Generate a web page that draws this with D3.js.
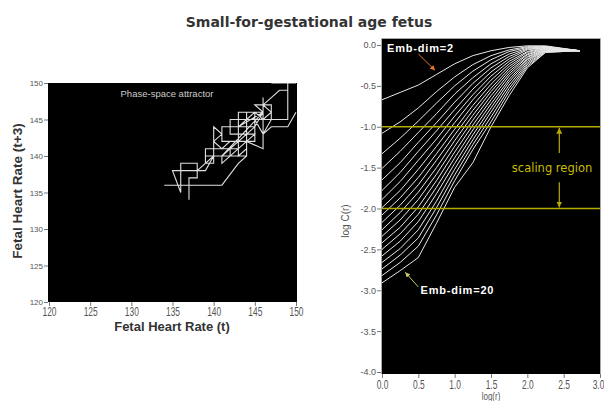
<!DOCTYPE html>
<html>
<head>
<meta charset="utf-8">
<script src="https://cdn.jsdelivr.net/npm/d3@7"></script>
<style>
  body { margin: 0; background: #fff; }
  svg { display: block; }
</style>
</head>
<body>
<script>
// ---- data ----
const fhrTicks = [120, 125, 130, 135, 140, 145, 150];
// phase-space trajectory: FHR(t) vs FHR(t+3), integer bpm
const attractorX = [146,146,144,144,143,141,137,134,138,137,137,137,138,138,136,136,135,139,140,144,
  142,142,139,139,140,140,141,140,141,142,145,145,143,143,144,144,146,146,146,145,
  147,147,145,146,145,142,142,145,143,141,141,139,139,138,140,
  140,143,143,141,141,144,144,142,142,145,145,141,146,
  143,144,145,146,147,146,147,148,149,149,150,147,149,149,149,147,146,147,149,150];
const attractorY = [143,141,142,140,139,136,136,136,136,136,134,137,137,139,139,135,138,138,140,140,
  140,141,141,139,139,144,143,142,141,142,142,146,146,140,141,146,146,148,143,145,
  145,147,147,146,144,144,143,143,141,139,140,140,139,138,140,
  141,141,142,142,144,144,143,143,145,145,144,140,146,
  144,145,146,145,146,147,148,149,149,150,150,150,150,147,145,145,143,144,144,146];

const logRTicks = [0, 0.5, 1.0, 1.5, 2.0, 2.5, 3.0];
const logCTicks = [0, -0.5, -1.0, -1.5, -2.0, -2.5, -3.0, -3.5, -4.0];
const logR = [0, 0.25, 0.5, 0.75, 1.0, 1.25, 1.5, 1.75, 2.0, 2.25, 2.72];
const embDims = [2,3,4,5,6,7,8,9,10,11,12,13,14,15,16,17,18,19,20];
const logC = [
  [-0.67,-0.58,-0.49,-0.36,-0.23,-0.13,-0.07,-0.03,-0.01,-0.01,-0.07],
  [-1.08,-0.94,-0.77,-0.57,-0.39,-0.24,-0.13,-0.06,-0.02,-0.02,-0.07],
  [-1.33,-1.14,-0.93,-0.71,-0.50,-0.32,-0.18,-0.08,-0.03,-0.02,-0.07],
  [-1.51,-1.30,-1.07,-0.84,-0.60,-0.40,-0.23,-0.11,-0.04,-0.02,-0.07],
  [-1.65,-1.44,-1.19,-0.95,-0.70,-0.47,-0.28,-0.14,-0.05,-0.03,-0.07],
  [-1.78,-1.56,-1.30,-1.05,-0.79,-0.54,-0.33,-0.17,-0.06,-0.03,-0.07],
  [-1.89,-1.67,-1.41,-1.15,-0.87,-0.61,-0.38,-0.20,-0.08,-0.03,-0.07],
  [-1.99,-1.78,-1.52,-1.24,-0.95,-0.67,-0.43,-0.23,-0.09,-0.04,-0.07],
  [-2.08,-1.87,-1.62,-1.33,-1.03,-0.74,-0.48,-0.26,-0.11,-0.04,-0.07],
  [-2.17,-1.96,-1.71,-1.41,-1.10,-0.80,-0.53,-0.29,-0.12,-0.05,-0.07],
  [-2.26,-2.05,-1.80,-1.50,-1.17,-0.86,-0.57,-0.32,-0.14,-0.05,-0.07],
  [-2.34,-2.14,-1.89,-1.58,-1.24,-0.92,-0.62,-0.35,-0.15,-0.06,-0.07],
  [-2.42,-2.23,-1.98,-1.66,-1.31,-0.98,-0.67,-0.38,-0.17,-0.06,-0.07],
  [-2.50,-2.31,-2.07,-1.74,-1.38,-1.04,-0.72,-0.42,-0.18,-0.07,-0.07],
  [-2.58,-2.40,-2.16,-1.82,-1.45,-1.10,-0.77,-0.45,-0.20,-0.07,-0.07],
  [-2.66,-2.49,-2.26,-1.91,-1.52,-1.16,-0.82,-0.49,-0.22,-0.08,-0.07],
  [-2.74,-2.57,-2.36,-1.99,-1.59,-1.22,-0.88,-0.53,-0.24,-0.08,-0.07],
  [-2.82,-2.66,-2.46,-2.08,-1.66,-1.28,-0.94,-0.57,-0.26,-0.09,-0.07],
  [-2.91,-2.76,-2.60,-2.18,-1.74,-1.44,-1.00,-0.62,-0.28,-0.09,-0.07]
];
const scalingBounds = [-1.0, -2.0];

const W = 604, H = 401;
const svg = d3.select("body").append("svg").attr("width", W).attr("height", H);

// title
svg.append("text").attr("x", 309).attr("y", 27).attr("text-anchor", "middle")
  .style("font", "bold 14px 'DejaVu Sans'").attr("fill", "#333")
  .text("Small-for-gestational age fetus");

// ---------- left: phase-space attractor ----------
const xL = d3.scaleLinear().domain([120, 150]).range([49, 296]);
const yL = d3.scaleLinear().domain([120, 150]).range([302, 83]);

svg.append("clipPath").attr("id", "clipL").append("rect")
  .attr("x", 48).attr("y", 83).attr("width", 249).attr("height", 219);
svg.append("rect").attr("x", 48).attr("y", 83).attr("width", 249).attr("height", 219).attr("fill", "#000");

const gyL = svg.append("g").attr("transform", "translate(48,0)")
  .call(d3.axisLeft(yL).tickValues(fhrTicks).tickSize(4).tickPadding(1));
gyL.select(".domain").remove();
gyL.selectAll("line").attr("stroke", "#777");
gyL.selectAll("text").style("font", "8px 'Liberation Sans'").attr("fill", "#555");

const gxL = svg.append("g").attr("transform", "translate(0,302)")
  .call(d3.axisBottom(xL).tickValues(fhrTicks).tickSize(4).tickPadding(1));
gxL.select(".domain").remove();
gxL.selectAll("line").attr("stroke", "#777");
gxL.selectAll("text").style("font", "12px 'Liberation Sans'").attr("fill", "#555")
  .attr("transform", "scale(0.7,1)");

svg.append("text").attr("x", 172).attr("y", 331).attr("text-anchor", "middle")
  .style("font", "bold 13px 'Liberation Sans'").attr("fill", "#333")
  .text("Fetal Heart Rate (t)");
svg.append("text").attr("transform", "translate(22,191) rotate(-90)").attr("text-anchor", "middle")
  .style("font", "bold 13.5px 'Liberation Sans'").attr("fill", "#333")
  .text("Fetal Heart Rate (t+3)");

svg.append("text").attr("x", 167).attr("y", 97).attr("text-anchor", "middle")
  .style("font", "9.5px 'Liberation Sans'").attr("fill", "#ccc")
  .text("Phase-space attractor");

const attractor = d3.line().x(i => xL(attractorX[i])).y(i => yL(attractorY[i]));
svg.append("path").attr("clip-path", "url(#clipL)")
  .attr("d", attractor(d3.range(attractorX.length)))
  .attr("fill", "none").attr("stroke", "#e0e0e0").attr("stroke-width", 1.1);

// ---------- right: correlation integrals ----------
const xR = d3.scaleLinear().domain([0, 3]).range([382, 600]);
const yR = d3.scaleLinear().domain([-4, 0]).range([372, 45]);

svg.append("rect").attr("x", 382).attr("y", 39).attr("width", 218).attr("height", 335).attr("fill", "#000");
svg.append("path").attr("d", "M381.5,374V38.5H600.5V374").attr("fill", "none").attr("stroke", "#aaa");

const gyR = svg.append("g").attr("transform", "translate(381,0)")
  .call(d3.axisLeft(yR).tickValues(logCTicks).tickSize(4).tickPadding(1).tickFormat(d => d.toFixed(1)));
gyR.select(".domain").remove();
gyR.selectAll("line").attr("stroke", "#777");
gyR.selectAll("text").style("font", "9px 'Liberation Sans'").attr("fill", "#555");

const gxR = svg.append("g").attr("transform", "translate(0,374)")
  .call(d3.axisBottom(xR).tickValues(logRTicks).tickSize(4).tickPadding(2).tickFormat(d => d.toFixed(1)));
gxR.select(".domain").remove();
gxR.selectAll("line").attr("stroke", "#777");
gxR.selectAll("text").style("font", "12px 'Liberation Sans'").attr("fill", "#555")
  .attr("transform", (d, i) => i === logRTicks.length - 1 ? "translate(-2,0) scale(0.7,1)" : "scale(0.7,1)");

svg.append("text").attr("transform", "translate(491,400) scale(0.8,1)").attr("text-anchor", "middle")
  .style("font", "10px 'Liberation Sans'").attr("fill", "#555").text("log(r)");
svg.append("text").attr("transform", "translate(349,221) rotate(-90)").attr("text-anchor", "middle")
  .style("font", "10px 'Liberation Sans'").attr("fill", "#555").text("log C(r)");

const curve = d3.line().x((d, i) => xR(logR[i])).y(d => yR(d));
svg.append("g").selectAll("path").data(logC).join("path")
  .attr("d", curve).attr("fill", "none").attr("stroke", "#e8e8e8").attr("stroke-width", 1);

// scaling region
const yellow = "#b4aa00";
svg.append("g").selectAll("line").data(scalingBounds).join("line")
  .attr("x1", 382).attr("x2", 600).attr("y1", d => yR(d)).attr("y2", d => yR(d))
  .attr("stroke", yellow).attr("stroke-width", 1.5);

const defs = svg.append("defs");
function marker(id, color) {
  defs.append("marker").attr("id", id).attr("viewBox", "0 0 10 10").attr("refX", 10).attr("refY", 5)
    .attr("markerWidth", 5).attr("markerHeight", 5).attr("orient", "auto")
    .append("path").attr("d", "M0,0L10,5L0,10Z").attr("fill", color);
}
marker("arrY", yellow);
marker("arrO", "#e8782a");
marker("arrG", "#c8c864");

const ax = xR(2.44);
svg.append("line").attr("x1", ax).attr("x2", ax).attr("y1", yR(-1.32)).attr("y2", yR(-1.0) + 1)
  .attr("stroke", yellow).attr("stroke-width", 1.2).attr("marker-end", "url(#arrY)");
svg.append("line").attr("x1", ax).attr("x2", ax).attr("y1", yR(-1.68)).attr("y2", yR(-2.0) - 1)
  .attr("stroke", yellow).attr("stroke-width", 1.2).attr("marker-end", "url(#arrY)");
svg.append("text").attr("x", xR(2.34)).attr("y", yR(-1.5)).attr("dy", "0.35em").attr("text-anchor", "middle")
  .style("font", "11.5px 'DejaVu Sans'").attr("fill", "#c8be00").text("scaling region");

// embedding-dimension labels
svg.append("text").attr("x", xR(0.07)).attr("y", yR(-0.04)).attr("dy", "0.35em")
  .style("font", "bold 11px 'Liberation Sans'").style("letter-spacing", "0.8px").attr("fill", "#fff")
  .text("Emb-dim=" + embDims[0]);
svg.append("line").attr("x1", xR(0.50)).attr("y1", yR(-0.11)).attr("x2", xR(0.73)).attr("y2", yR(-0.31))
  .attr("stroke", "#e8782a").attr("stroke-width", 1).attr("marker-end", "url(#arrO)");

svg.append("text").attr("x", xR(0.53)).attr("y", yR(-3.0)).attr("dy", "0.35em")
  .style("font", "bold 11px 'Liberation Sans'").style("letter-spacing", "0.8px").attr("fill", "#fff")
  .text("Emb-dim=" + embDims[embDims.length - 1]);
svg.append("line").attr("x1", xR(0.50)).attr("y1", yR(-2.96)).attr("x2", xR(0.32)).attr("y2", yR(-2.78))
  .attr("stroke", "#c8c864").attr("stroke-width", 1).attr("marker-end", "url(#arrG)");
</script>
</body>
</html>
